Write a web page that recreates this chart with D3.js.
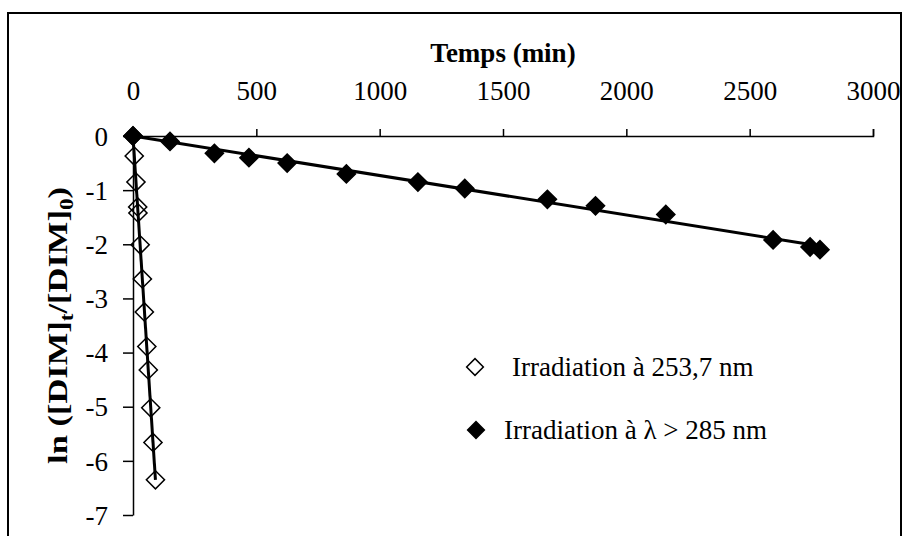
<!DOCTYPE html>
<html>
<head>
<meta charset="utf-8">
<script src="https://cdn.jsdelivr.net/npm/d3@7"></script>
<style>
  body { margin: 0; background: #fff; }
  svg { display: block; font-family: "Liberation Serif", "Times New Roman", serif; }
</style>
</head>
<body>
<div id="chart"></div>
<script>

// data
let timeUV = [0, 5, 12, 19, 20, 29, 38, 46, 56, 62, 72, 81, 91];            // min, 253,7 nm
let lnUV   = [0, -0.37, -0.85, -1.31, -1.42, -2.01, -2.64, -3.25, -3.89, -4.32, -5.02, -5.66, -6.35];

let timeSun = [0, 150, 330, 470, 625, 865, 1155, 1345, 1680, 1875, 2160, 2595, 2745, 2785]; // min, > 285 nm
let lnSun   = [0, -0.1, -0.32, -0.4, -0.5, -0.7, -0.85, -0.97, -1.17, -1.29, -1.45, -1.92, -2.05, -2.1];

let xTicks = [0, 500, 1000, 1500, 2000, 2500, 3000];
let yTicks = [0, -1, -2, -3, -4, -5, -6, -7];

let legendLabels = ["Irradiation à 253,7 nm", "Irradiation à λ > 285 nm"];

let width = 904,
    height = 536,
    fontSize = 27;

let svg = d3.select("#chart").append("svg")
    .attr("width", width)
    .attr("height", height);

// outer frame (runs off the bottom of the picture)
svg.append("rect")
    .attr("x", 8)
    .attr("y", 13)
    .attr("width", 893)
    .attr("height", 560)
    .attr("fill", "none")
    .attr("stroke", "#000")
    .attr("stroke-width", 2);

let x = d3.scaleLinear()
    .domain([0, 3000])
    .range([133, 873]);

let y = d3.scaleLinear()
    .domain([-7, 0])
    .range([515, 136]);

// axes
let xAxis = d3.axisTop(x)
    .tickValues(xTicks)
    .tickSize(7)
    .tickSizeOuter(7)
    .tickPadding(29)
    .tickFormat(d => String(d));

let yAxis = d3.axisLeft(y)
    .tickValues(yTicks)
    .tickSize(10)
    .tickSizeOuter(0)
    .tickPadding(15)
    .tickFormat(d => String(d));

let xAxisGroup = svg.append("g")
    .attr("transform", "translate(0," + y(0) + ")")
    .call(xAxis);

let yAxisGroup = svg.append("g")
    .attr("transform", "translate(" + x(0) + ",0)")
    .call(yAxis);

svg.selectAll(".domain, .tick line")
    .attr("stroke", "#000")
    .attr("stroke-width", 1.5);

svg.selectAll(".tick text")
    .attr("font-family", "Liberation Serif, Times New Roman, serif")
    .attr("font-size", fontSize)
    .attr("fill", "#000");

yAxisGroup.selectAll(".tick text")
    .attr("dy", "0.34em");

// axis titles, centred on the plot area
svg.append("text")
    .attr("x", (x.range()[0] + x.range()[1]) / 2)
    .attr("y", 62)
    .attr("text-anchor", "middle")
    .attr("font-size", fontSize)
    .attr("font-weight", "bold")
    .text("Temps (min)");

let yTitle = svg.append("text")
    .attr("text-anchor", "middle")
    .attr("font-size", fontSize)
    .attr("font-weight", "bold");
yTitle.append("tspan").text("ln ([DIM]");
yTitle.append("tspan").attr("font-size", 18).attr("dy", 6).text("t");
yTitle.append("tspan").attr("dy", -6).text("/[DIM]");
yTitle.append("tspan").attr("font-size", 18).attr("dy", 6).text("0");
yTitle.append("tspan").attr("dy", -6).text(")");

// stretch the title along its length to the span seen in the picture
let titleLen = yTitle.node().getComputedTextLength();
let yMid = (y.range()[0] + y.range()[1]) / 2;
yTitle.attr("transform", "translate(67," + yMid + ") rotate(-90) scale(" + (277 / titleLen) + ",1)");

// trend lines, forced through the origin
function slopeThroughOrigin(ts, vs) {
    let sxy = d3.sum(ts, (t, i) => t * vs[i]);
    let sxx = d3.sum(ts, t => t * t);
    return sxy / sxx;
}

let line = d3.line()
    .x(d => x(d[0]))
    .y(d => y(d[1]));

let kUV = slopeThroughOrigin(timeUV, lnUV);
let kSun = slopeThroughOrigin(timeSun, lnSun);

svg.append("path")
    .datum([[0, 0], [d3.max(timeUV), kUV * d3.max(timeUV)]])
    .attr("d", line)
    .attr("fill", "none")
    .attr("stroke", "#000")
    .attr("stroke-width", 3);

svg.append("path")
    .datum([[0, 0], [d3.max(timeSun), kSun * d3.max(timeSun)]])
    .attr("d", line)
    .attr("fill", "none")
    .attr("stroke", "#000")
    .attr("stroke-width", 3);

// markers
let diamond = d3.symbol().type(d3.symbolSquare).size(165);

svg.append("g").selectAll("path")
    .data(timeUV.map((t, i) => [t, lnUV[i]]))
    .join("path")
    .attr("d", diamond)
    .attr("transform", d => "translate(" + x(d[0]) + "," + y(d[1]) + ") rotate(45)")
    .attr("fill", "none")
    .attr("stroke", "#000")
    .attr("stroke-width", 1.5);

svg.append("g").selectAll("path")
    .data(timeSun.map((t, i) => [t, lnSun[i]]))
    .join("path")
    .attr("d", diamond)
    .attr("transform", d => "translate(" + x(d[0]) + "," + y(d[1]) + ") rotate(45)")
    .attr("fill", "#000")
    .attr("stroke", "#000")
    .attr("stroke-width", 1.5);

// legend
let legend = svg.append("g");
let legendRows = [
    {label: legendLabels[0], fill: "#fff", sx: 475, tx: 512, y: 367},
    {label: legendLabels[1], fill: "#000", sx: 476, tx: 504, y: 430}
];

legend.selectAll("path")
    .data(legendRows)
    .join("path")
    .attr("d", d3.symbol().type(d3.symbolSquare).size(140))
    .attr("transform", d => "translate(" + d.sx + "," + d.y + ") rotate(45)")
    .attr("fill", d => d.fill)
    .attr("stroke", "#000")
    .attr("stroke-width", 1.5);

legend.selectAll("text")
    .data(legendRows)
    .join("text")
    .attr("x", d => d.tx)
    .attr("y", d => d.y + 9)
    .attr("font-size", fontSize)
    .text(d => d.label);

</script>
</body>
</html>
